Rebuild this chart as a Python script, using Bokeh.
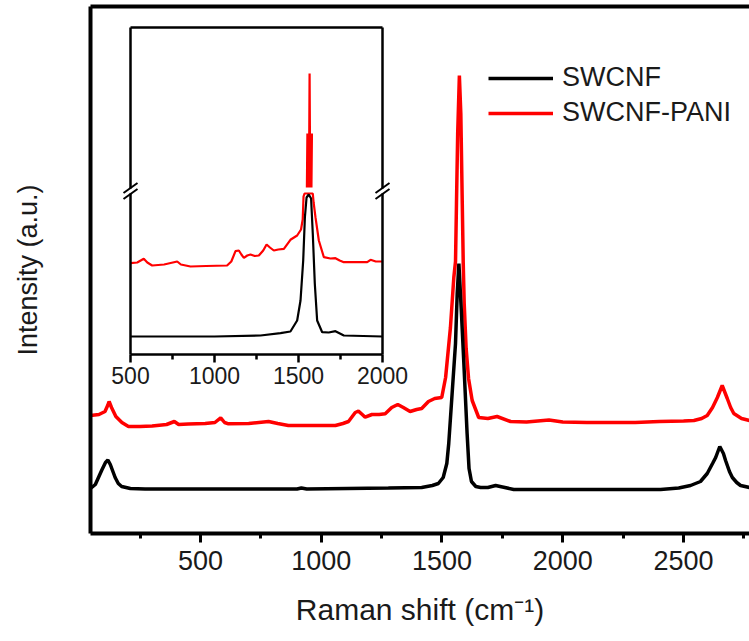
from bokeh.plotting import figure
from bokeh.models import Range1d, LinearAxis, FixedTicker, Legend, LegendItem
from bokeh.core.properties import value
from bokeh.embed import file_html
from bokeh.resources import INLINE

# ---------------- data ----------------
series_names = ["SWCNF", "SWCNF-PANI"]
series_colors = ["#000000", "#ff0000"]

# main panel: Raman shift (cm-1) and intensity (a.u.)
swcnf_x = [45, 65, 91, 107, 117, 127, 147, 160, 174, 210, 271, 600, 900, 918, 940,
           1278, 1416, 1460, 1485, 1505, 1520, 1528, 1542, 1556, 1563, 1570, 1580,
           1590, 1604, 1612, 1622, 1640, 1660, 1690, 1722, 1760, 1797, 2100, 2405,
           2480, 2529, 2570, 2598, 2620, 2633, 2650, 2665, 2674, 2690, 2702, 2720,
           2736, 2773]
swcnf_y = [45, 49, 63, 71, 73.5, 69, 56, 50, 47, 45, 44.5, 44.5, 44.5, 45.5, 44.5,
           45.5, 46, 48, 50, 56, 70, 90, 140, 190, 240, 270, 223,
           173, 100, 65, 52, 47, 46, 46, 48, 46, 44, 44, 44,
           45.5, 48, 52, 60, 70, 76, 87, 80, 73, 62, 56, 51,
           48, 46]

pani_x = [45, 80, 105, 116, 122, 132, 150, 175, 202, 250, 300, 360, 392, 410, 450,
          520, 560, 584, 600, 616, 700, 782, 820, 864, 1000, 1059, 1090, 1113, 1141,
          1154, 1170, 1182, 1210, 1240, 1265, 1292, 1317, 1340, 1368, 1395, 1416,
          1444, 1470, 1499, 1515, 1535, 1549, 1556, 1560, 1565, 1572, 1578, 1584,
          1588, 1592, 1600, 1610, 1625, 1652, 1690, 1728, 1784, 1850, 1943, 2000,
          2100, 2200, 2300, 2400, 2500, 2543, 2575, 2598, 2620, 2640, 2660, 2681,
          2695, 2708, 2740, 2773]
pani_y = [118, 119, 122, 128, 132, 126, 117, 111, 107, 107, 107.5, 109, 112, 109, 109.5,
          110, 111, 115.7, 111, 109.7, 110, 112, 110, 108, 108, 108, 110, 112, 121,
          122.3, 119, 116.3, 119, 119, 119.7, 126, 129, 126, 122, 124, 125,
          132, 135, 136, 156, 206, 256, 272, 330, 400, 458, 420, 330,
          270, 230, 185, 155, 133, 116, 115, 117, 112, 111.5, 113.5, 111.5,
          111, 111, 111, 112, 112.5, 113, 115, 118, 126, 136, 148, 135,
          126, 120, 115, 113]

x_major_ticks = [500, 1000, 1500, 2000, 2500]
x_minor_ticks = [250, 750, 1250, 1750, 2250, 2750]

# inset (broken intensity axis, display units)
inset_ticks = [500, 1000, 1500, 2000]
inset_minor_ticks = [750, 1250, 1750]

inset_swcnf_x = [500, 800, 1000, 1274, 1393, 1452, 1492, 1512, 1528, 1538, 1548,
                 1561, 1575, 1585, 1597, 1611, 1641, 1680, 1720, 1770, 2000]
inset_swcnf_y = [18, 18, 18, 19, 21.3, 23, 34, 54, 94, 137, 157,
                 160, 156, 121, 71, 34, 22.3, 22, 23.3, 19, 18]

inset_pani_x = [500, 540, 579, 600, 629, 700, 778, 800, 857, 950, 1075, 1100, 1125,
                1145, 1160, 1175, 1195, 1214, 1240, 1264, 1290, 1310, 1330, 1353,
                1380, 1413, 1452, 1492, 1515, 1525, 1530, 1536, 1585, 1590, 1601,
                1621, 1651, 1690, 1720, 1745, 1770, 1850, 1909, 1929, 1960, 2000]
inset_pani_y = [91.3, 92, 95.7, 92, 89, 90, 93, 90, 88, 88.5, 89, 93, 103.3,
                104, 100, 96.7, 99, 100, 98.5, 99, 104, 110, 107, 104,
                105, 105.7, 114.7, 119, 125, 135, 158, 161, 161, 152, 137.3,
                114, 97.3, 96, 96.3, 94, 92.3, 92.3, 92.3, 94.7, 93, 93]

# part of the SWCNF-PANI peak above the axis break
inset_pani_top_x = [1550, 1553, 1556, 1559, 1562, 1564, 1566, 1568, 1571, 1574, 1577, 1580]
inset_pani_top_y = [167, 221, 167, 221, 167, 221, 281, 221, 167, 221, 167, 221]

# ---------------- layout ----------------
FONT = "Liberation Sans"
W, H = 749, 641
frame_l, frame_r, frame_t, frame_b = 90, 749, 6, 533
inset_l, inset_r, inset_t, inset_b = 130, 382, 27, 354
inset_lo, inset_hi = 500, 2000
break_lo, break_hi = 161, 166          # gap in the inset spines (display units)

p = figure(width=W, height=H, output_backend="svg", toolbar_location=None,
           x_range=Range1d(45, 2773), y_range=Range1d(0, frame_b - frame_t),
           min_border_left=frame_l, min_border_right=W - frame_r,
           min_border_top=frame_t, min_border_bottom=H - frame_b)
p.outline_line_color = None
p.grid.visible = False
p.background_fill_color = "white"
p.border_fill_color = "white"

xa = p.xaxis[0]
xa.ticker = FixedTicker(ticks=x_major_ticks, minor_ticks=x_minor_ticks)
xa.axis_line_width = 4
xa.major_tick_line_width = 3
xa.minor_tick_line_width = 3
xa.major_tick_in = 0
xa.major_tick_out = 9
xa.minor_tick_in = 0
xa.minor_tick_out = 5
xa.major_label_standoff = 8
xa.major_label_text_font = FONT
xa.major_label_text_font_size = "27px"
xa.major_label_text_color = "#1a1a1a"
xa.axis_label = "Raman shift (cm\u207b\u00b9)"
xa.axis_label_text_font = FONT
xa.axis_label_text_font_size = "30px"
xa.axis_label_text_font_style = "normal"
xa.axis_label_text_color = "#1a1a1a"
xa.axis_label_standoff = 20

ya = p.yaxis[0]
ya.ticker = FixedTicker(ticks=[])
ya.axis_line_width = 4
ya.major_tick_out = 0
ya.major_tick_in = 0
ya.minor_tick_out = 0
ya.minor_tick_in = 0
ya.major_label_text_font_size = "0px"
ya.major_label_standoff = 0
ya.axis_label = "Intensity (a.u.)"
ya.axis_label_text_font = FONT
ya.axis_label_text_font_size = "27px"
ya.axis_label_text_font_style = "normal"
ya.axis_label_text_color = "#1a1a1a"
ya.axis_label_standoff = 48

top = LinearAxis(ticker=FixedTicker(ticks=[]), axis_line_width=4,
                 major_tick_out=0, major_tick_in=0, minor_tick_out=0, minor_tick_in=0,
                 major_label_text_font_size="0px", major_label_standoff=0)
p.add_layout(top, "above")

# main spectra (black drawn over red)
r_pani = p.line(pani_x, pani_y, line_color=series_colors[1], line_width=3.5)
r_swcnf = p.line(swcnf_x, swcnf_y, line_color=series_colors[0], line_width=3.5)

legend = Legend(items=[LegendItem(label=series_names[0], renderers=[r_swcnf]),
                       LegendItem(label=series_names[1], renderers=[r_pani])],
                location=(398, 405), glyph_width=65, glyph_height=30,
                label_height=30, spacing=4, padding=0, margin=0, label_standoff=9,
                border_line_color=None, background_fill_alpha=0,
                label_text_font=FONT, label_text_font_size="27px",
                label_text_color="#1a1a1a")
p.add_layout(legend)

# ---------------- inset, drawn through its own ranges ----------------
sx = (inset_r - inset_l) / (inset_hi - inset_lo)     # px per cm-1
p.extra_x_ranges = {"ix": Range1d(inset_lo - (inset_l - frame_l) / sx,
                                  inset_hi + (frame_r - inset_r) / sx)}
p.extra_y_ranges = {"iy": Range1d(-(frame_b - inset_b), inset_b - frame_t)}
itop = inset_b - inset_t
kw = dict(x_range_name="ix", y_range_name="iy")

p.quad(left=[inset_lo], right=[inset_hi], bottom=[0], top=[itop],
       fill_color="white", line_color=None, **kw)

p.line(inset_pani_x, inset_pani_y, line_color=series_colors[1], line_width=2.2, **kw)
p.line(inset_pani_top_x, inset_pani_top_y, line_color=series_colors[1], line_width=2.2, **kw)
p.line(inset_swcnf_x, inset_swcnf_y, line_color=series_colors[0], line_width=2.2, **kw)

# inset frame (spines interrupted at the break)
p.segment(x0=[inset_lo, inset_lo, inset_lo, inset_lo, inset_hi, inset_hi],
          y0=[0, itop, 0, break_hi, 0, break_hi],
          x1=[inset_hi, inset_hi, inset_lo, inset_lo, inset_hi, inset_hi],
          y1=[0, itop, break_lo, itop, break_lo, itop],
          line_color="black", line_width=2.5, **kw)

# break marks
dxu = 7 / sx
bx0, by0, bx1, by1 = [], [], [], []
for xs in (inset_lo, inset_hi):
    for yc in (break_lo - 0.5, break_hi + 0.5):
        bx0.append(xs - dxu); by0.append(yc - 5)
        bx1.append(xs + dxu); by1.append(yc + 5)
p.segment(x0=bx0, y0=by0, x1=bx1, y1=by1, line_color="black", line_width=2, **kw)

# inset ticks and tick labels
p.segment(x0=inset_ticks, y0=[0] * len(inset_ticks), x1=inset_ticks,
          y1=[-8] * len(inset_ticks), line_color="black", line_width=2.5, **kw)
p.segment(x0=inset_minor_ticks, y0=[0] * len(inset_minor_ticks), x1=inset_minor_ticks,
          y1=[-5] * len(inset_minor_ticks), line_color="black", line_width=2.5, **kw)
p.text(x=inset_ticks, y=[-21] * len(inset_ticks), text=[str(t) for t in inset_ticks],
       text_align="center", text_baseline="middle", text_font=value(FONT),
       text_font_size="23px", text_color="#1a1a1a", **kw)

open("out.html", "w").write(file_html(p, INLINE))
